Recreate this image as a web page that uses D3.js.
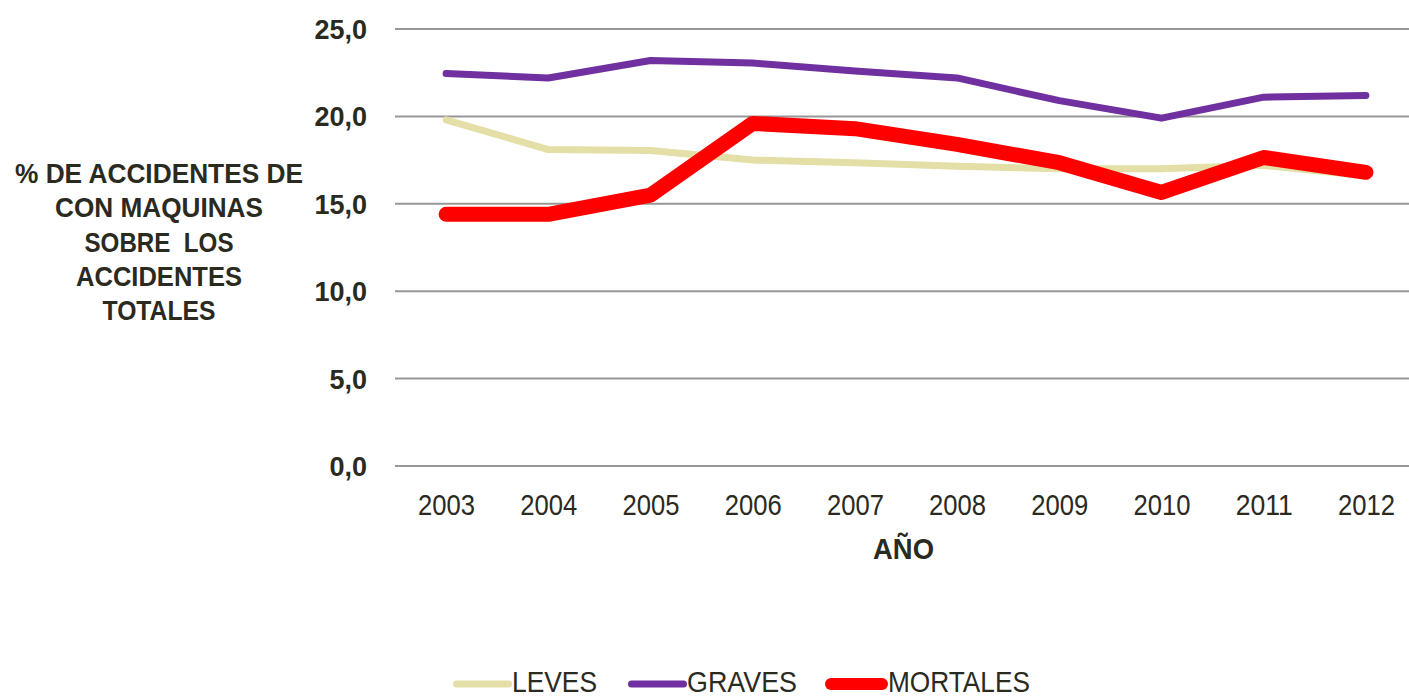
<!DOCTYPE html>
<html><head><meta charset="utf-8">
<script src="https://cdn.jsdelivr.net/npm/d3@7"></script>
<style>
body{margin:0;background:#fff;}
text{font-family:"Liberation Sans",Arial,sans-serif;fill:#2b2a1f;}
</style></head>
<body><svg id="c" width="1409" height="698"></svg>
<script>
const years = ["2003","2004","2005","2006","2007","2008","2009","2010","2011","2012"];
const leves = [19.8,18.1,18.05,17.5,17.35,17.15,17.0,17.0,17.2,16.6];
const graves = [22.45,22.2,23.2,23.05,22.6,22.2,20.9,19.9,21.1,21.2];
const mortales = [14.4,14.4,15.5,19.6,19.3,18.4,17.35,15.65,17.65,16.8];
const yTicks = [0,5,10,15,20,25];
const seriesNames = ["LEVES","GRAVES","MORTALES"];
const colors = ["#e3dfa7","#7030a0","#ff0000"];
const widths = [7,7,15];

const svg = d3.select("#c");
const x = d3.scaleBand().domain(years).range([395,1417]);
const y = d3.scaleLinear().domain([0,25]).range([466,29]);

svg.append("g").selectAll("line").data(yTicks).join("line")
  .attr("x1",395).attr("x2",1409)
  .attr("y1",d=>y(d)).attr("y2",d=>y(d))
  .attr("stroke","#979797").attr("stroke-width",2);

svg.append("g").selectAll("text").data(yTicks).join("text")
  .attr("x",367).attr("y",d=>y(d)+10)
  .attr("text-anchor","end").attr("font-size",27).attr("font-weight","bold")
  .text(d=>d.toFixed(1).replace(".",","));

svg.append("g").selectAll("text").data(years).join("text")
  .attr("x",d=>x(d)+x.bandwidth()/2-28).attr("y",515)
  .attr("font-size",30)
  .attr("textLength",57).attr("lengthAdjust","spacingAndGlyphs")
  .text(d=>d);

svg.append("text").attr("x",873).attr("y",559)
  .attr("font-size",30).attr("font-weight","bold")
  .attr("textLength",61).attr("lengthAdjust","spacingAndGlyphs").text("AÑO");

const yTitle = ["% DE ACCIDENTES DE","CON MAQUINAS","SOBRE  LOS","ACCIDENTES","TOTALES"];
const yTitleW = [288,208,149,166,113];
svg.append("g").selectAll("text").data(yTitle).join("text")
  .attr("x",(d,i)=>159-yTitleW[i]/2).attr("y",(d,i)=>183+i*34.3)
  .attr("font-size",28).attr("font-weight","bold")
  .attr("xml:space","preserve")
  .attr("textLength",(d,i)=>yTitleW[i]).attr("lengthAdjust","spacingAndGlyphs")
  .text(d=>d);

const data = [leves,graves,mortales];
const line = d3.line().x((d,i)=>x(years[i])+x.bandwidth()/2).y(d=>y(d));
data.forEach((s,k)=>{
  svg.append("path").attr("d",line(s)).attr("fill","none")
    .attr("stroke",colors[k]).attr("stroke-width",widths[k])
    .attr("stroke-linejoin","round").attr("stroke-linecap","round");
});

const lx = [453,628,825];
const lineEnd = [512,687,888];
const textW = [85,110,142];
const legW = [7,7,12];
seriesNames.forEach((n,k)=>{
  svg.append("line").attr("x1",lx[k]+legW[k]/2).attr("x2",lineEnd[k]-legW[k]/2).attr("y1",684).attr("y2",684)
    .attr("stroke",colors[k]).attr("stroke-width",legW[k]).attr("stroke-linecap","round");
  svg.append("text").attr("x",lineEnd[k]).attr("y",692).attr("font-size",29)
    .attr("textLength",textW[k]).attr("lengthAdjust","spacingAndGlyphs").text(n);
});
</script></body></html>
